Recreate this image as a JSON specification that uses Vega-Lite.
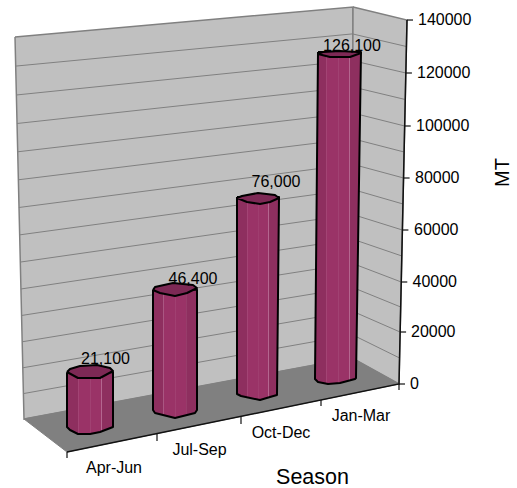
{
  "$schema": "https://vega.github.io/schema/vega-lite/v6.json",
  "width": 517,
  "height": 488,
  "padding": 0,
  "autosize": "none",
  "background": "white",
  "config": {"view": {"stroke": null}, "font": "Liberation Sans", "axis": {"titleFontWeight": "normal"}},
  "datasets": {
    "walls": [
      {"part": "back", "seq": 1, "slot": 0.1875, "mt": 133452},
      {"part": "back", "seq": 2, "slot": 4.4125, "mt": 145023},
      {"part": "back", "seq": 3, "slot": 4.4, "mt": 9643},
      {"part": "back", "seq": 4, "slot": 0.3, "mt": -13885},
      {"part": "back", "seq": 5, "slot": 0.1875, "mt": 133452},
      {"part": "side", "seq": 1, "slot": 4.4125, "mt": 145023},
      {"part": "side", "seq": 2, "slot": 5.0875, "mt": 140000},
      {"part": "side", "seq": 3, "slot": 4.9875, "mt": -386},
      {"part": "side", "seq": 4, "slot": 4.4, "mt": 9643},
      {"part": "side", "seq": 5, "slot": 4.4125, "mt": 145023}
    ],
    "floor": [
      {"seq": 1, "slot": 0.3, "mt": -13885},
      {"seq": 2, "slot": 0.8375, "mt": -26613},
      {"seq": 3, "slot": 4.9875, "mt": -386},
      {"seq": 4, "slot": 4.4, "mt": 9643},
      {"seq": 5, "slot": 0.3, "mt": -13885}
    ],
    "grid": [
      {"line": 1, "seq": 1, "slot": 0.292, "mt": -4088}, {"line": 1, "seq": 2, "slot": 4.406, "mt": 18591}, {"line": 1, "seq": 3, "slot": 4.995, "mt": 9643},
      {"line": 2, "seq": 1, "slot": 0.284, "mt": 5863}, {"line": 2, "seq": 2, "slot": 4.406, "mt": 27693}, {"line": 2, "seq": 3, "slot": 5.001, "mt": 19671},
      {"line": 3, "seq": 1, "slot": 0.276, "mt": 15891}, {"line": 3, "seq": 2, "slot": 4.406, "mt": 36873}, {"line": 3, "seq": 3, "slot": 5.009, "mt": 29313},
      {"line": 4, "seq": 1, "slot": 0.268, "mt": 26035}, {"line": 4, "seq": 2, "slot": 4.406, "mt": 46130}, {"line": 4, "seq": 3, "slot": 5.016, "mt": 38956},
      {"line": 5, "seq": 1, "slot": 0.26, "mt": 36256}, {"line": 5, "seq": 2, "slot": 4.406, "mt": 55502}, {"line": 5, "seq": 3, "slot": 5.024, "mt": 48984},
      {"line": 6, "seq": 1, "slot": 0.252, "mt": 46631}, {"line": 6, "seq": 2, "slot": 4.406, "mt": 65029}, {"line": 6, "seq": 3, "slot": 5.03, "mt": 59012},
      {"line": 7, "seq": 1, "slot": 0.244, "mt": 57122}, {"line": 7, "seq": 2, "slot": 4.406, "mt": 74672}, {"line": 7, "seq": 3, "slot": 5.038, "mt": 69040},
      {"line": 8, "seq": 1, "slot": 0.236, "mt": 67690}, {"line": 8, "seq": 2, "slot": 4.406, "mt": 84391}, {"line": 8, "seq": 3, "slot": 5.045, "mt": 79069},
      {"line": 9, "seq": 1, "slot": 0.228, "mt": 78374}, {"line": 9, "seq": 2, "slot": 4.406, "mt": 94227}, {"line": 9, "seq": 3, "slot": 5.051, "mt": 89097},
      {"line": 10, "seq": 1, "slot": 0.22, "mt": 89174}, {"line": 10, "seq": 2, "slot": 4.406, "mt": 104178}, {"line": 10, "seq": 3, "slot": 5.059, "mt": 99125},
      {"line": 11, "seq": 1, "slot": 0.212, "mt": 100089}, {"line": 11, "seq": 2, "slot": 4.406, "mt": 114206}, {"line": 11, "seq": 3, "slot": 5.066, "mt": 109346},
      {"line": 12, "seq": 1, "slot": 0.204, "mt": 111082}, {"line": 12, "seq": 2, "slot": 4.406, "mt": 124350}, {"line": 12, "seq": 3, "slot": 5.074, "mt": 119567},
      {"line": 13, "seq": 1, "slot": 0.196, "mt": 122228}, {"line": 13, "seq": 2, "slot": 4.406, "mt": 134648}, {"line": 13, "seq": 3, "slot": 5.08, "mt": 129788}
    ],
    "axisEdge": [
      {"seq": 1, "slot": 0.8375, "mt": -26613},
      {"seq": 2, "slot": 4.9875, "mt": -386},
      {"seq": 3, "slot": 5.0875, "mt": 140000}
    ],
    "mtTicks": [
      {"tick": 0, "slot": 4.9875, "slot2": 5.0625, "mt": -386, "labelSlot": 5.125},
      {"tick": 20000, "slot": 5.001, "slot2": 5.076, "mt": 19671, "labelSlot": 5.1375},
      {"tick": 40000, "slot": 5.016, "slot2": 5.091, "mt": 38956, "labelSlot": 5.156},
      {"tick": 60000, "slot": 5.03, "slot2": 5.105, "mt": 59012, "labelSlot": 5.175},
      {"tick": 80000, "slot": 5.045, "slot2": 5.12, "mt": 79069, "labelSlot": 5.1875},
      {"tick": 100000, "slot": 5.059, "slot2": 5.134, "mt": 99125, "labelSlot": 5.2},
      {"tick": 120000, "slot": 5.074, "slot2": 5.149, "mt": 119567, "labelSlot": 5.2125},
      {"tick": 140000, "slot": 5.0875, "slot2": 5.1625, "mt": 140000, "labelSlot": 5.225}
    ],
    "seasonTicks": [
      {"slot": 0.8375, "mt": -26613, "mt2": -28928},
      {"slot": 1.9625, "mt": -19285, "mt2": -22371},
      {"slot": 3.0125, "mt": -13114, "mt2": -15814},
      {"slot": 4.0125, "mt": -6557, "mt2": -8871},
      {"slot": 4.9875, "mt": -386, "mt2": -2700}
    ],
    "seasonLabels": [
      {"season": "Apr-Jun", "slot": 1.425, "mt": -32785},
      {"season": "Jul-Sep", "slot": 2.494, "mt": -25842},
      {"season": "Oct-Dec", "slot": 3.5125, "mt": -19285},
      {"season": "Jan-Mar", "slot": 4.5125, "mt": -12728}
    ],
    "barBodies": [
      {"season": "Apr-Jun", "seq": 1, "slot": 0.8375, "mt": 4129},
      {"season": "Apr-Jun", "seq": 2, "slot": 1.4125, "mt": 4129},
      {"season": "Apr-Jun", "seq": 3, "slot": 1.4125, "mt": -16971},
      {"season": "Apr-Jun", "seq": 4, "slot": 1.25, "mt": -18899},
      {"season": "Apr-Jun", "seq": 5, "slot": 1.125, "mt": -19671},
      {"season": "Apr-Jun", "seq": 6, "slot": 0.975, "mt": -19671},
      {"season": "Apr-Jun", "seq": 7, "slot": 0.875, "mt": -18128},
      {"season": "Apr-Jun", "seq": 8, "slot": 0.8375, "mt": -16971},
      {"season": "Apr-Jun", "seq": 9, "slot": 0.8375, "mt": 4129},
      {"season": "Jul-Sep", "seq": 1, "slot": 1.9125, "mt": 35986},
      {"season": "Jul-Sep", "seq": 2, "slot": 2.4625, "mt": 35986},
      {"season": "Jul-Sep", "seq": 3, "slot": 2.4625, "mt": -10414},
      {"season": "Jul-Sep", "seq": 4, "slot": 2.4375, "mt": -11571},
      {"season": "Jul-Sep", "seq": 5, "slot": 2.1875, "mt": -13500},
      {"season": "Jul-Sep", "seq": 6, "slot": 1.9375, "mt": -11571},
      {"season": "Jul-Sep", "seq": 7, "slot": 1.9125, "mt": -10414},
      {"season": "Jul-Sep", "seq": 8, "slot": 1.9125, "mt": 35986},
      {"season": "Oct-Dec", "seq": 1, "slot": 2.9625, "mt": 71757},
      {"season": "Oct-Dec", "seq": 2, "slot": 3.4875, "mt": 71757},
      {"season": "Oct-Dec", "seq": 3, "slot": 3.4625, "mt": -4628},
      {"season": "Oct-Dec", "seq": 4, "slot": 3.375, "mt": -5400},
      {"season": "Oct-Dec", "seq": 5, "slot": 3.25, "mt": -6557},
      {"season": "Oct-Dec", "seq": 6, "slot": 3.0125, "mt": -5014},
      {"season": "Oct-Dec", "seq": 7, "slot": 2.9625, "mt": -4243},
      {"season": "Oct-Dec", "seq": 8, "slot": 2.9625, "mt": 71757},
      {"season": "Jan-Mar", "seq": 1, "slot": 3.975, "mt": 127643},
      {"season": "Jan-Mar", "seq": 2, "slot": 4.5125, "mt": 127643},
      {"season": "Jan-Mar", "seq": 3, "slot": 4.45, "mt": 1929},
      {"season": "Jan-Mar", "seq": 4, "slot": 4.4375, "mt": 1543},
      {"season": "Jan-Mar", "seq": 5, "slot": 4.25, "mt": 0},
      {"season": "Jan-Mar", "seq": 6, "slot": 4.1, "mt": -386},
      {"season": "Jan-Mar", "seq": 7, "slot": 3.975, "mt": 386},
      {"season": "Jan-Mar", "seq": 8, "slot": 3.9375, "mt": 1543},
      {"season": "Jan-Mar", "seq": 9, "slot": 3.975, "mt": 127643}
    ],
    "barCaps": [
      {"season": "Apr-Jun", "seq": 1, "slot": 0.8375, "mt": 4243},
      {"season": "Apr-Jun", "seq": 2, "slot": 0.875, "mt": 5400},
      {"season": "Apr-Jun", "seq": 3, "slot": 1.0, "mt": 6557},
      {"season": "Apr-Jun", "seq": 4, "slot": 1.2125, "mt": 6943},
      {"season": "Apr-Jun", "seq": 5, "slot": 1.375, "mt": 5786},
      {"season": "Apr-Jun", "seq": 6, "slot": 1.4125, "mt": 4628},
      {"season": "Apr-Jun", "seq": 7, "slot": 1.25, "mt": 1929},
      {"season": "Apr-Jun", "seq": 8, "slot": 0.975, "mt": 1929},
      {"season": "Apr-Jun", "seq": 9, "slot": 0.8375, "mt": 4243},
      {"season": "Jul-Sep", "seq": 1, "slot": 1.9125, "mt": 35870},
      {"season": "Jul-Sep", "seq": 2, "slot": 1.9375, "mt": 37027},
      {"season": "Jul-Sep", "seq": 3, "slot": 2.1625, "mt": 38570},
      {"season": "Jul-Sep", "seq": 4, "slot": 2.4125, "mt": 37799},
      {"season": "Jul-Sep", "seq": 5, "slot": 2.4625, "mt": 36642},
      {"season": "Jul-Sep", "seq": 6, "slot": 2.3375, "mt": 34713},
      {"season": "Jul-Sep", "seq": 7, "slot": 2.1875, "mt": 33556},
      {"season": "Jul-Sep", "seq": 8, "slot": 2.0, "mt": 34713},
      {"season": "Jul-Sep", "seq": 9, "slot": 1.9125, "mt": 35870},
      {"season": "Oct-Dec", "seq": 1, "slot": 2.9625, "mt": 71355},
      {"season": "Oct-Dec", "seq": 2, "slot": 3.025, "mt": 72126},
      {"season": "Oct-Dec", "seq": 3, "slot": 3.225, "mt": 73283},
      {"season": "Oct-Dec", "seq": 4, "slot": 3.4375, "mt": 72512},
      {"season": "Oct-Dec", "seq": 5, "slot": 3.4875, "mt": 71355},
      {"season": "Oct-Dec", "seq": 6, "slot": 3.375, "mt": 69811},
      {"season": "Oct-Dec", "seq": 7, "slot": 3.25, "mt": 69040},
      {"season": "Oct-Dec", "seq": 8, "slot": 3.0875, "mt": 69811},
      {"season": "Oct-Dec", "seq": 9, "slot": 2.9625, "mt": 71355},
      {"season": "Jan-Mar", "seq": 1, "slot": 3.975, "mt": 126895},
      {"season": "Jan-Mar", "seq": 2, "slot": 4.0375, "mt": 127667},
      {"season": "Jan-Mar", "seq": 3, "slot": 4.25, "mt": 128052},
      {"season": "Jan-Mar", "seq": 4, "slot": 4.475, "mt": 127667},
      {"season": "Jan-Mar", "seq": 5, "slot": 4.5125, "mt": 127281},
      {"season": "Jan-Mar", "seq": 6, "slot": 4.375, "mt": 125738},
      {"season": "Jan-Mar", "seq": 7, "slot": 4.125, "mt": 125738},
      {"season": "Jan-Mar", "seq": 8, "slot": 3.975, "mt": 126895}
    ],
    "barValues": [
      {"season": "Apr-Jun", "value": 21100, "slot": 1.319, "mt": 7328},
      {"season": "Jul-Sep", "value": 46400, "slot": 2.4125, "mt": 38184},
      {"season": "Oct-Dec", "value": 76000, "slot": 3.45, "mt": 75597},
      {"season": "Jan-Mar", "value": 126100, "slot": 4.4, "mt": 128052}
    ]
  },
  "encoding": {
    "x": {
      "field": "slot",
      "type": "quantitative",
      "scale": {"domain": [0, 6.4625], "nice": false, "zero": false},
      "axis": {
        "title": "Season",
        "labels": false,
        "ticks": false,
        "domain": false,
        "grid": false,
        "titleFont": "Liberation Sans",
        "titleFontSize": 21.5,
        "titleFontWeight": "normal",
        "titleColor": "#000000",
        "titleAlign": "center",
        "titleBaseline": "middle",
        "titleX": 312,
        "titleY": -11
      }
    },
    "y": {
      "field": "mt",
      "type": "quantitative",
      "scale": {"domain": [-40498, 147723], "nice": false, "zero": false},
      "axis": {
        "orient": "right",
        "title": "MT",
        "labels": false,
        "ticks": false,
        "domain": false,
        "grid": false,
        "titleFont": "Liberation Sans",
        "titleFontSize": 20,
        "titleFontWeight": "normal",
        "titleColor": "#000000",
        "titleAlign": "center",
        "titleBaseline": "middle",
        "titleAngle": -90,
        "titleX": -15,
        "titleY": 172
      }
    }
  },
  "layer": [
    {
      "data": {"name": "walls"},
      "mark": {"type": "line", "fill": "#c0c0c0", "stroke": "#808080", "strokeWidth": 1.5, "strokeJoin": "miter"},
      "encoding": {"detail": {"field": "part"}, "order": {"field": "seq"}}
    },
    {
      "data": {"name": "grid"},
      "mark": {"type": "line", "stroke": "#808080", "strokeWidth": 1},
      "encoding": {"detail": {"field": "line"}, "order": {"field": "seq"}}
    },
    {
      "data": {"name": "floor"},
      "mark": {"type": "line", "fill": "#808080", "stroke": "#808080", "strokeWidth": 1},
      "encoding": {"order": {"field": "seq"}}
    },
    {
      "data": {"name": "axisEdge"},
      "mark": {"type": "line", "stroke": "#111111", "strokeWidth": 1.5},
      "encoding": {"order": {"field": "seq"}}
    },
    {
      "data": {"name": "mtTicks"},
      "mark": {"type": "rule", "stroke": "#111111", "strokeWidth": 1.2},
      "encoding": {"x2": {"field": "slot2"}}
    },
    {
      "data": {"name": "seasonTicks"},
      "mark": {"type": "rule", "stroke": "#111111", "strokeWidth": 1.2},
      "encoding": {"y2": {"field": "mt2"}}
    },
    {
      "data": {"name": "barBodies"},
      "mark": {
        "type": "line",
        "stroke": "#000000",
        "strokeWidth": 2,
        "strokeJoin": "round",
        "fill": {
          "gradient": "linear",
          "x1": 0, "y1": 0, "x2": 1, "y2": 0,
          "stops": [
            {"offset": 0, "color": "#8e2f5f"},
            {"offset": 0.235, "color": "#8e2f5f"},
            {"offset": 0.24, "color": "#b4668f"},
            {"offset": 0.255, "color": "#9a3367"},
            {"offset": 0.495, "color": "#9a3367"},
            {"offset": 0.5, "color": "#b4668f"},
            {"offset": 0.515, "color": "#9a3367"},
            {"offset": 0.745, "color": "#9a3367"},
            {"offset": 0.75, "color": "#b4668f"},
            {"offset": 0.765, "color": "#8e2f5f"},
            {"offset": 1, "color": "#8e2f5f"}
          ]
        }
      },
      "encoding": {"detail": {"field": "season"}, "order": {"field": "seq"}}
    },
    {
      "data": {"name": "barCaps"},
      "mark": {"type": "line", "fill": "#7d2955", "stroke": "#000000", "strokeWidth": 2, "strokeJoin": "round"},
      "encoding": {"detail": {"field": "season"}, "order": {"field": "seq"}}
    },
    {
      "data": {"name": "barValues"},
      "mark": {"type": "text", "font": "Liberation Sans", "fontSize": 16, "color": "#000000", "align": "center", "baseline": "alphabetic"},
      "encoding": {"text": {"field": "value", "type": "quantitative", "format": ","}}
    },
    {
      "data": {"name": "mtTicks"},
      "mark": {"type": "text", "font": "Liberation Sans", "fontSize": 16, "color": "#000000", "align": "left", "baseline": "middle"},
      "encoding": {
        "x": {"field": "labelSlot", "type": "quantitative"},
        "text": {"field": "tick", "type": "quantitative", "format": "d"}
      }
    },
    {
      "data": {"name": "seasonLabels"},
      "mark": {"type": "text", "font": "Liberation Sans", "fontSize": 16, "color": "#000000", "align": "center", "baseline": "middle"},
      "encoding": {"text": {"field": "season", "type": "nominal"}}
    }
  ]
}
